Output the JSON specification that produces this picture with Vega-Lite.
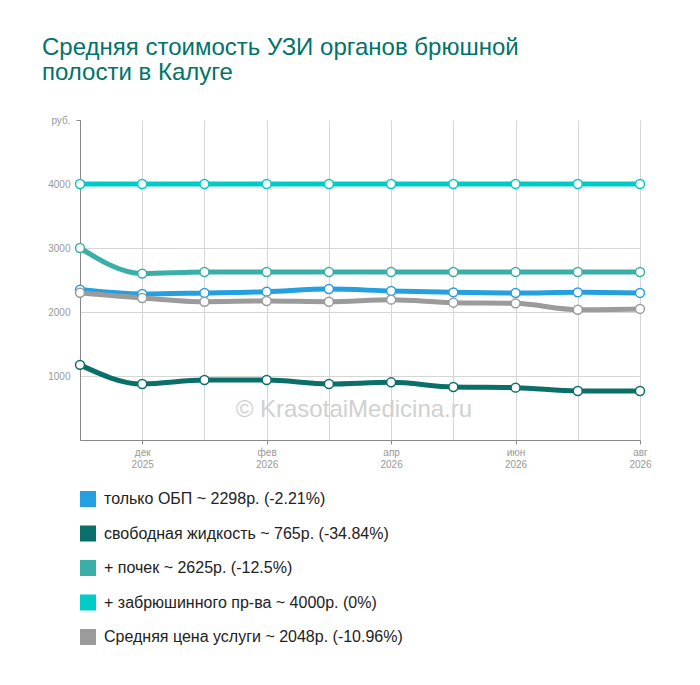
{
  "$schema": "https://vega.github.io/schema/vega-lite/v6.json",
  "width": 560,
  "height": 320,
  "autosize": {"type": "none"},
  "padding": {"left": 80, "top": 120, "right": 60, "bottom": 245},
  "background": "white",
  "config": {
    "view": {"stroke": null},
    "font": "Liberation Sans"
  },
  "title": {
    "text": ["Средняя стоимость УЗИ органов брюшной", "полости в Калуге"],
    "anchor": "start",
    "frame": "group",
    "dx": -38,
    "offset": 30,
    "font": "Liberation Sans",
    "fontSize": 24,
    "fontWeight": "normal",
    "lineHeight": 25,
    "color": "#00736a"
  },
  "datasets": {
    "prices": [
      {"month": "ноя 2025", "series": "только ОБП ~ 2298р. (-2.21%)", "price": 2350},
      {"month": "дек 2025", "series": "только ОБП ~ 2298р. (-2.21%)", "price": 2281},
      {"month": "янв 2026", "series": "только ОБП ~ 2298р. (-2.21%)", "price": 2297},
      {"month": "фев 2026", "series": "только ОБП ~ 2298р. (-2.21%)", "price": 2318},
      {"month": "мар 2026", "series": "только ОБП ~ 2298р. (-2.21%)", "price": 2359},
      {"month": "апр 2026", "series": "только ОБП ~ 2298р. (-2.21%)", "price": 2328},
      {"month": "май 2026", "series": "только ОБП ~ 2298р. (-2.21%)", "price": 2307},
      {"month": "июн 2026", "series": "только ОБП ~ 2298р. (-2.21%)", "price": 2297},
      {"month": "июл 2026", "series": "только ОБП ~ 2298р. (-2.21%)", "price": 2307},
      {"month": "авг 2026", "series": "только ОБП ~ 2298р. (-2.21%)", "price": 2298},
      {"month": "ноя 2025", "series": "свободная жидкость ~ 765р. (-34.84%)", "price": 1174},
      {"month": "дек 2025", "series": "свободная жидкость ~ 765р. (-34.84%)", "price": 875},
      {"month": "янв 2026", "series": "свободная жидкость ~ 765р. (-34.84%)", "price": 937},
      {"month": "фев 2026", "series": "свободная жидкость ~ 765р. (-34.84%)", "price": 937},
      {"month": "мар 2026", "series": "свободная жидкость ~ 765р. (-34.84%)", "price": 875},
      {"month": "апр 2026", "series": "свободная жидкость ~ 765р. (-34.84%)", "price": 901},
      {"month": "май 2026", "series": "свободная жидкость ~ 765р. (-34.84%)", "price": 828},
      {"month": "июн 2026", "series": "свободная жидкость ~ 765р. (-34.84%)", "price": 818},
      {"month": "июл 2026", "series": "свободная жидкость ~ 765р. (-34.84%)", "price": 766},
      {"month": "авг 2026", "series": "свободная жидкость ~ 765р. (-34.84%)", "price": 765},
      {"month": "ноя 2025", "series": "+ почек ~ 2625р. (-12.5%)", "price": 3000},
      {"month": "дек 2025", "series": "+ почек ~ 2625р. (-12.5%)", "price": 2600},
      {"month": "янв 2026", "series": "+ почек ~ 2625р. (-12.5%)", "price": 2625},
      {"month": "фев 2026", "series": "+ почек ~ 2625р. (-12.5%)", "price": 2625},
      {"month": "мар 2026", "series": "+ почек ~ 2625р. (-12.5%)", "price": 2625},
      {"month": "апр 2026", "series": "+ почек ~ 2625р. (-12.5%)", "price": 2625},
      {"month": "май 2026", "series": "+ почек ~ 2625р. (-12.5%)", "price": 2625},
      {"month": "июн 2026", "series": "+ почек ~ 2625р. (-12.5%)", "price": 2625},
      {"month": "июл 2026", "series": "+ почек ~ 2625р. (-12.5%)", "price": 2625},
      {"month": "авг 2026", "series": "+ почек ~ 2625р. (-12.5%)", "price": 2625},
      {"month": "ноя 2025", "series": "+ забрюшинного пр-ва ~ 4000р. (0%)", "price": 4000},
      {"month": "дек 2025", "series": "+ забрюшинного пр-ва ~ 4000р. (0%)", "price": 4000},
      {"month": "янв 2026", "series": "+ забрюшинного пр-ва ~ 4000р. (0%)", "price": 4000},
      {"month": "фев 2026", "series": "+ забрюшинного пр-ва ~ 4000р. (0%)", "price": 4000},
      {"month": "мар 2026", "series": "+ забрюшинного пр-ва ~ 4000р. (0%)", "price": 4000},
      {"month": "апр 2026", "series": "+ забрюшинного пр-ва ~ 4000р. (0%)", "price": 4000},
      {"month": "май 2026", "series": "+ забрюшинного пр-ва ~ 4000р. (0%)", "price": 4000},
      {"month": "июн 2026", "series": "+ забрюшинного пр-ва ~ 4000р. (0%)", "price": 4000},
      {"month": "июл 2026", "series": "+ забрюшинного пр-ва ~ 4000р. (0%)", "price": 4000},
      {"month": "авг 2026", "series": "+ забрюшинного пр-ва ~ 4000р. (0%)", "price": 4000},
      {"month": "ноя 2025", "series": "Средняя цена услуги ~ 2048р. (-10.96%)", "price": 2300},
      {"month": "дек 2025", "series": "Средняя цена услуги ~ 2048р. (-10.96%)", "price": 2219},
      {"month": "янв 2026", "series": "Средняя цена услуги ~ 2048р. (-10.96%)", "price": 2161},
      {"month": "фев 2026", "series": "Средняя цена услуги ~ 2048р. (-10.96%)", "price": 2172},
      {"month": "мар 2026", "series": "Средняя цена услуги ~ 2048р. (-10.96%)", "price": 2161},
      {"month": "апр 2026", "series": "Средняя цена услуги ~ 2048р. (-10.96%)", "price": 2193},
      {"month": "май 2026", "series": "Средняя цена услуги ~ 2048р. (-10.96%)", "price": 2146},
      {"month": "июн 2026", "series": "Средняя цена услуги ~ 2048р. (-10.96%)", "price": 2135},
      {"month": "июл 2026", "series": "Средняя цена услуги ~ 2048р. (-10.96%)", "price": 2036},
      {"month": "авг 2026", "series": "Средняя цена услуги ~ 2048р. (-10.96%)", "price": 2048}
    ],
    "watermark": [
      {"month": "мар 2026", "price": 470, "note": "© KrasotaiMedicina.ru"}
    ]
  },
  "data": {"name": "prices"},
  "encoding": {
    "x": {
      "field": "month",
      "type": "ordinal",
      "sort": ["ноя 2025", "дек 2025", "янв 2026", "фев 2026", "мар 2026", "апр 2026", "май 2026", "июн 2026", "июл 2026", "авг 2026"],
      "scale": {"type": "point", "padding": 0},
      "title": null,
      "axis": {
        "labelAngle": 0,
        "labelExpr": "indexof(['дек 2025','фев 2026','апр 2026','июн 2026','авг 2026'], datum.value) >= 0 ? split(datum.value, ' ') : ''",
        "labelColor": "#999999",
        "labelFontSize": 10,
        "labelLineHeight": 12,
        "labelPadding": 3,
        "tickSize": 4,
        "tickColor": "#888888",
        "tickOpacity": {"condition": {"test": "indexof(['дек 2025','фев 2026','апр 2026','июн 2026','авг 2026'], datum.value) >= 0", "value": 1}, "value": 0},
        "domainColor": "#888888",
        "grid": true,
        "gridColor": "#d6d6d6"
      }
    },
    "y": {
      "field": "price",
      "type": "quantitative",
      "scale": {"domain": [0, 5000], "nice": false},
      "title": null,
      "axis": {
        "values": [0, 1000, 2000, 3000, 4000, 5000],
        "format": "d",
        "labelExpr": "datum.value == 5000 ? 'руб.' : datum.value == 0 ? '' : datum.label",
        "labelColor": "#999999",
        "labelFontSize": 10,
        "labelPadding": 6,
        "ticks": true,
        "tickSize": 4,
        "tickColor": "#888888",
        "tickOpacity": {"condition": {"test": "datum.value == 5000", "value": 1}, "value": 0},
        "domainColor": "#888888",
        "grid": true,
        "gridColor": "#d6d6d6",
        "gridOpacity": {"condition": {"test": "datum.value == 5000 || datum.value == 0", "value": 0}, "value": 1}
      }
    }
  },
  "layer": [
    {
      "data": {"name": "watermark"},
      "mark": {"type": "text", "fontSize": 24, "color": "#d0d0d0", "dx": 25, "align": "center", "baseline": "middle"},
      "encoding": {
        "text": {"field": "note", "type": "nominal"}
      }
    },
    {
      "mark": {"type": "line", "strokeWidth": 5, "interpolate": "monotone"},
      "encoding": {
        "color": {
          "field": "series",
          "type": "nominal",
          "sort": null,
          "scale": {
            "domain": ["только ОБП ~ 2298р. (-2.21%)", "свободная жидкость ~ 765р. (-34.84%)", "+ почек ~ 2625р. (-12.5%)", "+ забрюшинного пр-ва ~ 4000р. (0%)", "Средняя цена услуги ~ 2048р. (-10.96%)"],
            "range": ["#249fe0", "#0a6f68", "#3aafa8", "#00cbc6", "#9b9b9b"]
          },
          "legend": {
            "title": null,
            "orient": "none",
            "legendX": 0,
            "legendY": 371,
            "direction": "vertical",
            "padding": 0,
            "symbolType": "square",
            "symbolSize": 256,
            "symbolStrokeWidth": 0,
            "labelFontSize": 16,
            "labelColor": "#222222",
            "labelLimit": 600,
            "labelOffset": 8,
            "rowPadding": 18.5,
            "encode": {
              "symbols": {"update": {"fill": {"scale": "color", "field": "value"}, "fillOpacity": {"value": 1}, "strokeWidth": {"value": 0}}}
            }
          }
        }
      }
    },
    {
      "mark": {"type": "point", "filled": true, "fill": "white", "size": 80, "strokeWidth": 1.5, "opacity": 1},
      "encoding": {
        "stroke": {
          "field": "series",
          "type": "nominal",
          "scale": {
            "domain": ["только ОБП ~ 2298р. (-2.21%)", "свободная жидкость ~ 765р. (-34.84%)", "+ почек ~ 2625р. (-12.5%)", "+ забрюшинного пр-ва ~ 4000р. (0%)", "Средняя цена услуги ~ 2048р. (-10.96%)"],
            "range": ["#249fe0", "#0a6f68", "#3aafa8", "#00cbc6", "#9b9b9b"]
          },
          "legend": null
        }
      }
    }
  ]
}
